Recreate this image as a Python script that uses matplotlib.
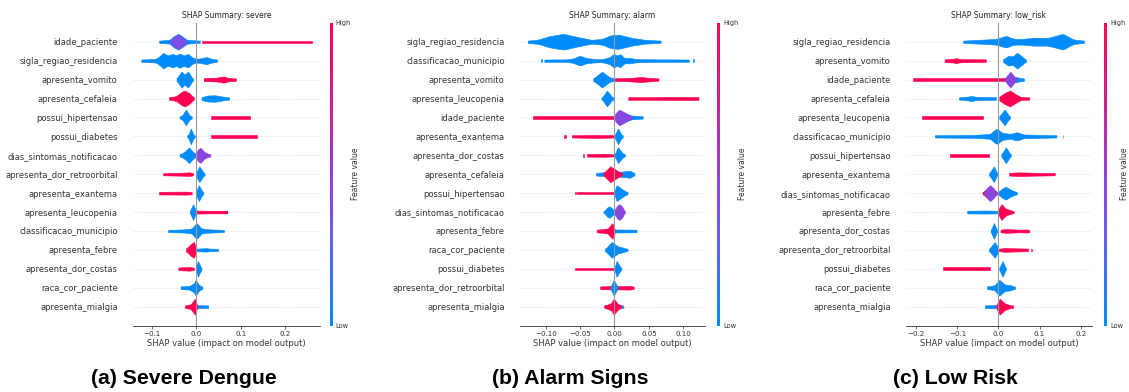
import numpy as np
import matplotlib
matplotlib.use("Agg")
import matplotlib.pyplot as plt
from matplotlib.colors import LinearSegmentedColormap
from matplotlib.cm import ScalarMappable

# ---------------- data ----------------
# each cluster: (feature value 0=low..1=high, x knots (SHAP value), relative half-thickness)
severe_features = ["idade_paciente", "sigla_regiao_residencia", "apresenta_vomito", "apresenta_cefaleia",
                   "possui_hipertensao", "possui_diabetes", "dias_sintomas_notificacao",
                   "apresenta_dor_retroorbital", "apresenta_exantema", "apresenta_leucopenia",
                   "classificacao_municipio", "apresenta_febre", "apresenta_dor_costas",
                   "raca_cor_paciente", "apresenta_mialgia"]
severe_clusters = [
    [(0.0, [-0.083, -0.060, -0.050, -0.040, -0.030, -0.020, 0.008], [0.06, 0.10, 0.20, 0.26, 0.18, 0.10, 0.06]),
     (0.4, [-0.058, -0.050, -0.040, -0.030, -0.022], [0.06, 0.18, 0.24, 0.16, 0.06]),
     (1.0, [0.012, 0.259], [0.06, 0.06])],
    [(0.0, [-0.123, -0.090, -0.080, -0.074, -0.064, -0.052, -0.045, -0.037, -0.028, -0.018, -0.008, 0.001, 0.010, 0.023, 0.035, 0.047],
      [0.06, 0.10, 0.25, 0.38, 0.25, 0.33, 0.25, 0.35, 0.25, 0.33, 0.15, 0.10, 0.12, 0.18, 0.10, 0.06])],
    [(0.0, [-0.044, -0.033, -0.026, -0.018, -0.007], [0.08, 0.25, 0.18, 0.25, 0.06]),
     (1.0, [0.017, 0.045, 0.061, 0.075, 0.089], [0.08, 0.10, 0.13, 0.09, 0.06])],
    [(1.0, [-0.061, -0.045, -0.032, -0.025, -0.015, -0.005], [0.07, 0.12, 0.28, 0.32, 0.22, 0.06]),
     (0.0, [0.012, 0.025, 0.042, 0.060, 0.074], [0.08, 0.14, 0.15, 0.10, 0.06])],
    [(0.0, [-0.037, -0.030, -0.023, -0.016, -0.010], [0.06, 0.12, 0.22, 0.12, 0.06]),
     (1.0, [0.034, 0.121], [0.08, 0.08])],
    [(0.0, [-0.020, -0.012, -0.003], [0.06, 0.18, 0.06]),
     (1.0, [0.033, 0.136], [0.08, 0.08])],
    [(0.0, [-0.037, -0.025, -0.016, -0.008, 0.001], [0.07, 0.15, 0.25, 0.15, 0.06]),
     (0.45, [-0.003, 0.004, 0.010, 0.018, 0.032], [0.06, 0.20, 0.24, 0.14, 0.06])],
    [(1.0, [-0.074, -0.030, -0.015, -0.007], [0.06, 0.08, 0.10, 0.06]),
     (0.0, [-0.001, 0.007, 0.019], [0.08, 0.25, 0.06])],
    [(1.0, [-0.083, -0.020, -0.010], [0.07, 0.08, 0.06]),
     (0.0, [-0.001, 0.006, 0.016], [0.08, 0.25, 0.06])],
    [(0.0, [-0.014, -0.007, 0.001], [0.08, 0.22, 0.06]),
     (1.0, [0.001, 0.030, 0.070], [0.08, 0.07, 0.07])],
    [(0.0, [-0.063, -0.030, -0.010, 0.001, 0.012, 0.035, 0.062], [0.06, 0.08, 0.12, 0.28, 0.12, 0.08, 0.06])],
    [(1.0, [-0.023, -0.012, -0.005, 0.001], [0.08, 0.20, 0.25, 0.06]),
     (0.0, [0.001, 0.023, 0.030, 0.049], [0.07, 0.09, 0.07, 0.06])],
    [(1.0, [-0.040, -0.015, -0.005], [0.07, 0.10, 0.06]),
     (0.0, [-0.001, 0.004, 0.012], [0.08, 0.25, 0.06])],
    [(0.0, [-0.035, -0.015, -0.005, -0.001, 0.005, 0.014], [0.07, 0.10, 0.18, 0.28, 0.15, 0.06])],
    [(0.0, [-0.005, 0.010, 0.027], [0.07, 0.08, 0.07]),
     (1.0, [-0.025, -0.012, -0.003, 0.003], [0.07, 0.12, 0.28, 0.06])],
]

alarm_features = ["sigla_regiao_residencia", "classificacao_municipio", "apresenta_vomito", "apresenta_leucopenia",
                  "idade_paciente", "apresenta_exantema", "apresenta_dor_costas", "apresenta_cefaleia",
                  "possui_hipertensao", "dias_sintomas_notificacao", "apresenta_febre", "raca_cor_paciente",
                  "possui_diabetes", "apresenta_dor_retroorbital", "apresenta_mialgia"]
alarm_clusters = [
    [(0.0, [-0.126, -0.110, -0.095, -0.074, -0.055, -0.033, -0.018, -0.005, 0.006, 0.025, 0.045, 0.067],
      [0.06, 0.12, 0.28, 0.40, 0.25, 0.10, 0.15, 0.33, 0.36, 0.20, 0.10, 0.06])],
    [(0.0, [-0.1075, -0.1055], [0.07, 0.07]),
     (0.0, [-0.102, -0.070, -0.058, -0.050, -0.042, -0.020, -0.005, -0.001, 0.004, 0.008, 0.013, 0.023, 0.035, 0.060, 0.108],
      [0.06, 0.07, 0.12, 0.18, 0.12, 0.08, 0.15, 0.25, 0.15, 0.25, 0.12, 0.12, 0.08, 0.07, 0.06]),
     (0.0, [0.114, 0.116], [0.07, 0.07])],
    [(0.0, [-0.031, -0.018, -0.008, 0.001], [0.08, 0.25, 0.12, 0.06]),
     (1.0, [0.001, 0.020, 0.039, 0.052, 0.064], [0.07, 0.09, 0.12, 0.09, 0.06])],
    [(0.0, [-0.019, -0.011, -0.001], [0.07, 0.20, 0.06]),
     (1.0, [0.020, 0.122], [0.07, 0.08])],
    [(1.0, [-0.118, 0.001], [0.06, 0.06]),
     (0.0, [0.001, 0.010, 0.025, 0.041], [0.10, 0.20, 0.10, 0.06]),
     (0.45, [0.001, 0.007, 0.015, 0.025], [0.15, 0.26, 0.18, 0.06])],
    [(1.0, [-0.073, -0.071], [0.07, 0.07]),
     (1.0, [-0.062, -0.030, -0.020, -0.001], [0.06, 0.08, 0.08, 0.06]),
     (0.0, [0.000, 0.005, 0.012], [0.08, 0.20, 0.06])],
    [(1.0, [-0.046, -0.044], [0.07, 0.07]),
     (1.0, [-0.040, -0.015, -0.001], [0.07, 0.08, 0.06]),
     (0.0, [0.000, 0.005, 0.015], [0.08, 0.20, 0.06])],
    [(0.0, [-0.027, -0.010, 0.010, 0.023, 0.029], [0.07, 0.12, 0.12, 0.15, 0.06]),
     (1.0, [-0.016, -0.006, 0.004, 0.011], [0.08, 0.28, 0.15, 0.06])],
    [(1.0, [-0.058, -0.056], [0.07, 0.07]),
     (1.0, [-0.055, -0.001], [0.07, 0.07]),
     (0.0, [0.000, 0.003, 0.012, 0.019], [0.10, 0.28, 0.15, 0.06])],
    [(0.0, [-0.016, -0.010, -0.007, -0.002, 0.002], [0.06, 0.18, 0.20, 0.12, 0.06]),
     (0.45, [-0.001, 0.004, 0.007, 0.011, 0.015], [0.08, 0.22, 0.26, 0.20, 0.06])],
    [(1.0, [-0.026, -0.010, -0.003, 0.001], [0.07, 0.12, 0.28, 0.06]),
     (0.0, [0.001, 0.032], [0.08, 0.07])],
    [(0.0, [-0.014, -0.004, 0.005, 0.011, 0.019], [0.06, 0.28, 0.15, 0.12, 0.06])],
    [(1.0, [-0.058, -0.001], [0.07, 0.07]),
     (0.0, [0.000, 0.003, 0.010], [0.08, 0.25, 0.06])],
    [(1.0, [-0.021, -0.005, 0.015, 0.022, 0.028], [0.07, 0.09, 0.09, 0.10, 0.06]),
     (0.0, [-0.006, -0.001, 0.005], [0.07, 0.25, 0.06])],
    [(0.0, [-0.005, 0.008, 0.013], [0.07, 0.08, 0.06]),
     (1.0, [-0.015, -0.005, -0.001, 0.004, 0.010], [0.07, 0.15, 0.28, 0.15, 0.06])],
]

low_features = ["sigla_regiao_residencia", "apresenta_vomito", "idade_paciente", "apresenta_cefaleia",
                "apresenta_leucopenia", "classificacao_municipio", "possui_hipertensao", "apresenta_exantema",
                "dias_sintomas_notificacao", "apresenta_febre", "apresenta_dor_costas",
                "apresenta_dor_retroorbital", "possui_diabetes", "raca_cor_paciente", "apresenta_mialgia"]
low_clusters = [
    [(0.0, [-0.086, -0.050, -0.029, -0.005, 0.010, 0.019, 0.030, 0.040, 0.060, 0.084, 0.120, 0.145, 0.157, 0.170, 0.182, 0.208],
      [0.06, 0.10, 0.12, 0.15, 0.25, 0.30, 0.20, 0.15, 0.15, 0.20, 0.20, 0.33, 0.40, 0.25, 0.12, 0.06])],
    [(1.0, [-0.131, -0.110, -0.102, -0.090, -0.031], [0.07, 0.10, 0.12, 0.08, 0.07]),
     (0.0, [0.011, 0.024, 0.035, 0.045, 0.055, 0.067], [0.08, 0.20, 0.18, 0.30, 0.20, 0.06])],
    [(1.0, [-0.209, 0.028], [0.06, 0.06]),
     (0.0, [0.015, 0.044, 0.062], [0.08, 0.12, 0.06]),
     (0.45, [0.015, 0.029, 0.044], [0.08, 0.27, 0.06])],
    [(0.0, [-0.096, -0.075, -0.066, -0.055, -0.006], [0.06, 0.10, 0.13, 0.09, 0.07]),
     (1.0, [0.002, 0.015, 0.028, 0.042, 0.055, 0.075], [0.10, 0.25, 0.35, 0.20, 0.08, 0.06])],
    [(1.0, [-0.187, -0.037], [0.07, 0.07]),
     (0.0, [0.002, 0.015, 0.028], [0.08, 0.25, 0.06])],
    [(0.0, [-0.155, -0.060, -0.020, -0.005, 0.010, 0.030, 0.045, 0.060, 0.141],
      [0.06, 0.08, 0.12, 0.30, 0.15, 0.12, 0.18, 0.10, 0.06]),
     (0.0, [0.156, 0.158], [0.07, 0.07])],
    [(1.0, [-0.118, -0.023], [0.08, 0.08]),
     (0.0, [0.007, 0.018, 0.030], [0.08, 0.25, 0.06])],
    [(0.0, [-0.023, -0.011, -0.003], [0.07, 0.25, 0.06]),
     (1.0, [0.026, 0.040, 0.052, 0.080, 0.137], [0.07, 0.09, 0.10, 0.08, 0.06])],
    [(0.0, [-0.001, 0.010, 0.018, 0.030, 0.045], [0.08, 0.20, 0.25, 0.15, 0.06]),
     (1.0, [-0.039, -0.025, -0.015, -0.003], [0.06, 0.22, 0.20, 0.06]),
     (0.45, [-0.035, -0.025, -0.020, -0.012, -0.004], [0.06, 0.25, 0.30, 0.20, 0.06])],
    [(0.0, [-0.076, -0.030, -0.001], [0.07, 0.08, 0.07]),
     (1.0, [-0.001, 0.007, 0.018, 0.037], [0.10, 0.30, 0.15, 0.06])],
    [(0.0, [-0.019, -0.011, -0.003], [0.07, 0.25, 0.06]),
     (1.0, [0.005, 0.019, 0.050, 0.070, 0.075], [0.07, 0.10, 0.07, 0.08, 0.06])],
    [(0.0, [-0.023, -0.009, 0.001], [0.07, 0.30, 0.06]),
     (1.0, [0.002, 0.015, 0.050, 0.072], [0.07, 0.10, 0.08, 0.07]),
     (1.0, [0.079, 0.081], [0.07, 0.07])],
    [(1.0, [-0.135, -0.021], [0.08, 0.08]),
     (0.0, [0.002, 0.010, 0.018], [0.08, 0.25, 0.06])],
    [(0.0, [-0.028, -0.010, 0.002, 0.015, 0.030, 0.040], [0.07, 0.12, 0.30, 0.15, 0.12, 0.06])],
    [(0.0, [-0.033, -0.010, 0.005], [0.07, 0.09, 0.07]),
     (1.0, [-0.005, 0.003, 0.015, 0.025, 0.036], [0.10, 0.30, 0.15, 0.10, 0.06])],
]

severe_ticks = [-0.1, 0.0, 0.1, 0.2]
severe_ticklabels = ["\u22120.1", "0.0", "0.1", "0.2"]
alarm_ticks = [-0.10, -0.05, 0.0, 0.05, 0.10]
alarm_ticklabels = ["\u22120.10", "\u22120.05", "0.00", "0.05", "0.10"]
low_ticks = [-0.2, -0.1, 0.0, 0.1, 0.2]
low_ticklabels = ["\u22120.2", "\u22120.1", "0.0", "0.1", "0.2"]

titles = ["SHAP Summary: severe", "SHAP Summary: alarm", "SHAP Summary: low_risk"]
captions = ["(a) Severe Dengue", "(b) Alarm Signs", "(c) Low Risk"]

# ---------------- style ----------------
W, H = 1129, 392
fig = plt.figure(figsize=(W / 100, H / 100), dpi=100)
cmap = LinearSegmentedColormap.from_list(
    "shap_red_blue", ["#008bfb", "#5a64f4", "#9440d8", "#d0208f", "#ff0051"])

ROW_MAX = 0.42     # like shap: each row's densest spot is scaled to the row height
THIN = 0.10

top_px, bot_px = 22.8, 325.6
panels = [
    dict(feats=severe_features, cl=severe_clusters, xl=(-0.1416, 0.2765), ticks=severe_ticks,
         tl=severe_ticklabels, ax_px=(133, 319.5), cb_px=329.5, title=titles[0], cap=captions[0],
         cap_x=184, lpad=0),
    dict(feats=alarm_features, cl=alarm_clusters, xl=(-0.1373, 0.1315), ticks=alarm_ticks,
         tl=alarm_ticklabels, ax_px=(520, 705), cb_px=717, title=titles[1], cap=captions[1],
         cap_x=570, lpad=0),
    dict(feats=low_features, cl=low_clusters, xl=(-0.225, 0.2268), ticks=low_ticks,
         tl=low_ticklabels, ax_px=(906, 1091.7), cb_px=1104, title=titles[2], cap=captions[2],
         cap_x=955, lpad=-3.8),
]


def smooth_profile(xs, hs, n=300, win=9):
    xx = np.linspace(xs[0], xs[-1], n)
    hh = np.interp(xx, xs, hs)
    k = np.ones(win) / win
    hh = np.convolve(np.pad(hh, win // 2, mode="edge"), k, mode="valid")
    return xx, np.maximum(hh, 0.055)


for p in panels:
    l, r = p["ax_px"]
    ax = fig.add_axes([l / W, 1 - bot_px / H, (r - l) / W, (bot_px - top_px) / H])
    n = len(p["feats"])
    for i, clusters in enumerate(p["cl"]):
        y = n - 1 - i
        ax.axhline(y, color="#cccccc", lw=0.5, ls=(0, (1, 2)), zorder=0)
        hmax = max(max(c[2]) for c in clusters)
        s = (ROW_MAX - THIN) / (hmax - THIN) if hmax > THIN else 1.0
        for cval, xs, hs in clusters:
            xx, hh = smooth_profile(xs, hs)
            hh = np.where(hh > THIN, THIN + (hh - THIN) * s, hh)
            c = cmap(cval)
            ax.fill_between(xx, y - hh, y + hh, color=c, edgecolor=c, lw=0.4, zorder=2)
    ax.axvline(0, color="#999999", lw=0.8, zorder=3)
    ax.set_xlim(*p["xl"])
    ax.set_ylim(-1, n)
    ax.set_yticks(range(n))
    ax.set_yticklabels(list(reversed(p["feats"])), fontsize=6.0, color="#333333")
    ax.tick_params(axis="y", length=0, pad=11)
    ax.set_xticks(p["ticks"])
    ax.set_xticklabels(p["tl"], fontsize=5.1, color="#333333")
    ax.tick_params(axis="x", length=2.5, width=0.5, pad=1.5, color="#333333")
    for sp in ["left", "right", "top"]:
        ax.spines[sp].set_visible(False)
    ax.spines["bottom"].set_color("#333333")
    ax.spines["bottom"].set_linewidth(0.6)
    ax.set_xlabel("SHAP value (impact on model output)", fontsize=6.0, color="#333333", labelpad=1.5)
    ax.set_title(p["title"], fontsize=5.5, pad=3.5, color="#222222")

    cax = fig.add_axes([p["cb_px"] / W, 1 - bot_px / H, 3.3 / W, (bot_px - top_px) / H])
    sm = ScalarMappable(cmap=cmap)
    sm.set_array([0, 1])
    cb = fig.colorbar(sm, cax=cax, ticks=[0, 1])
    cb.set_ticklabels(["Low", "High"])
    cb.ax.tick_params(labelsize=4.8, length=0, pad=2, labelcolor="#333333")
    cb.outline.set_visible(False)
    cb.set_label("Feature value", size=5.5, labelpad=p["lpad"], color="#333333")

    fig.text(p["cap_x"] / W, 1 - 378 / H, p["cap"], ha="center", va="center",
             fontsize=15.3, fontweight="bold", family=["Liberation Sans", "DejaVu Sans"])

fig.savefig("out.png", dpi=100)
